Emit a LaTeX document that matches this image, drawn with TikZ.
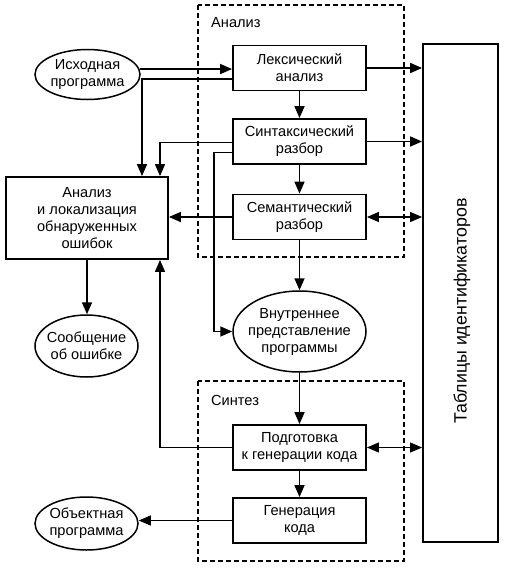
\documentclass[tikz,border=0pt]{standalone}
\usepackage{fontspec}
\setmainfont{Liberation Sans}
\usetikzlibrary{arrows.meta,shapes.geometric}
\tikzset{
  txt/.style={font=\fontsize{14.6pt}{17pt}\selectfont},
  box/.style={draw,line width=1.8pt,minimum width=133pt,minimum height=45pt,inner sep=1pt,align=center,txt},
  oval/.style={draw,ellipse,line width=1.5pt,inner sep=0pt},
  ovaltext/.style={inner sep=0pt,align=center,txt},
  grp/.style={draw,dashed,line width=1.6pt,dash pattern=on 5pt off 3pt},
  arr/.style={line width=1.6pt,-{Triangle[length=12pt,width=10pt]}},
  arrthin/.style={line width=0.9pt,-{Triangle[length=12pt,width=10pt]}},
  darr/.style={line width=1.3pt,{Triangle[length=12pt,width=10pt]}-{Triangle[length=12pt,width=10pt]}},
  darrthin/.style={line width=0.9pt,{Triangle[length=12pt,width=10pt]}-{Triangle[length=12pt,width=10pt]}},
  lbl/.style={anchor=west,inner sep=0pt,txt}
}
\begin{document}
\begin{tikzpicture}[x=1pt,y=-1pt]
\useasboundingbox (0,0) rectangle (508,573);
% group frames
\draw[grp] (198,5) rectangle (404,257);
\draw[grp] (198,381) rectangle (404,561);
\node[lbl] (la) at (211,23) {Анализ};
\node[lbl] (ls) at (211,400) {Синтез};
% nodes
\node[box] (Lex) at (299.5,68) {Лексический\\анализ};
\node[box] (Syn) at (299.5,141.5) {Синтаксический\\разбор};
\node[box] (Sem) at (299.5,217) {Семантический\\разбор};
\node[oval,minimum width=133pt,minimum height=81pt] (Int) at (299.5,331.5) {};
\node[ovaltext] (IntT) at (Int) {Внутреннее\\представление\\программы};
\node[box] (Pod) at (299.5,447.5) {Подготовка\\к генерации кода};
\node[box] (Gen) at (299.5,520.5) {Генерация\\кода};
\node[box,minimum width=75pt,minimum height=498pt] (Tab) at (460.5,293) {};
\node[rotate=90,inner sep=0pt,font=\fontsize{17.8pt}{20pt}\selectfont] (TabT) at (462,311) {Таблицы идентификаторов};
\node[oval,minimum width=105pt,minimum height=50pt] (Isx) at (87.5,74.5) {};
\node[ovaltext] (IsxT) at (Isx) {Исходная\\программа};
\node[box,minimum width=162pt,minimum height=82pt] (Err) at (87,218) {Анализ\\и локализация\\обнаруженных\\ошибок};
\node[oval,minimum width=103pt,minimum height=62pt] (Msg) at (86.5,346) {};
\node[ovaltext] (MsgT) at (Msg) {Сообщение\\об ошибке};
\node[oval,minimum width=103pt,minimum height=53pt] (Obj) at (86.5,523.5) {};
\node[ovaltext] (ObjT) at (Obj) {Объектная\\программа};
% connectors
\draw[arr] (Isx.6) -- (Isx.6 -| Lex.west);
\draw[arr] ([yshift=-11pt]Lex.west) -| ([xshift=55pt]Err.north);
\draw[arr] ([yshift=-1pt]Syn.west) -| ([xshift=73pt]Err.north);
\draw[arr] ([yshift=-11pt]Syn.west) -| ([xshift=-18pt]Int.west) -- (Int.west);
\draw[arr] (Sem.west) -- (Sem.west -| Err.east);
\draw[arr] (Err.south) -- (Err.south |- Msg.north);
\draw[line width=1.1pt,-{Triangle[length=12pt,width=10pt]}] (Pod.west) -| ([xshift=73pt]Err.south);
\draw[arrthin] (Gen.west) -- (Gen.west -| Obj.east);
\draw[arr] (Lex.south) -- (Syn.north);
\draw[arr] (Syn.south) -- (Sem.north);
\draw[arr] (Sem.south) -- (Int.north);
\draw[arr] (Int.south) -- (Pod.north);
\draw[arr] (Pod.south) -- (Gen.north);
\draw[arr] (Lex.east) -- (Lex.east -| Tab.west);
\draw[arr] (Syn.east) -- (Syn.east -| Tab.west);
\draw[darr] (Sem.east) -- (Sem.east -| Tab.west);
\draw[darrthin] (Pod.east) -- (Pod.east -| Tab.west);
\end{tikzpicture}
\end{document}
